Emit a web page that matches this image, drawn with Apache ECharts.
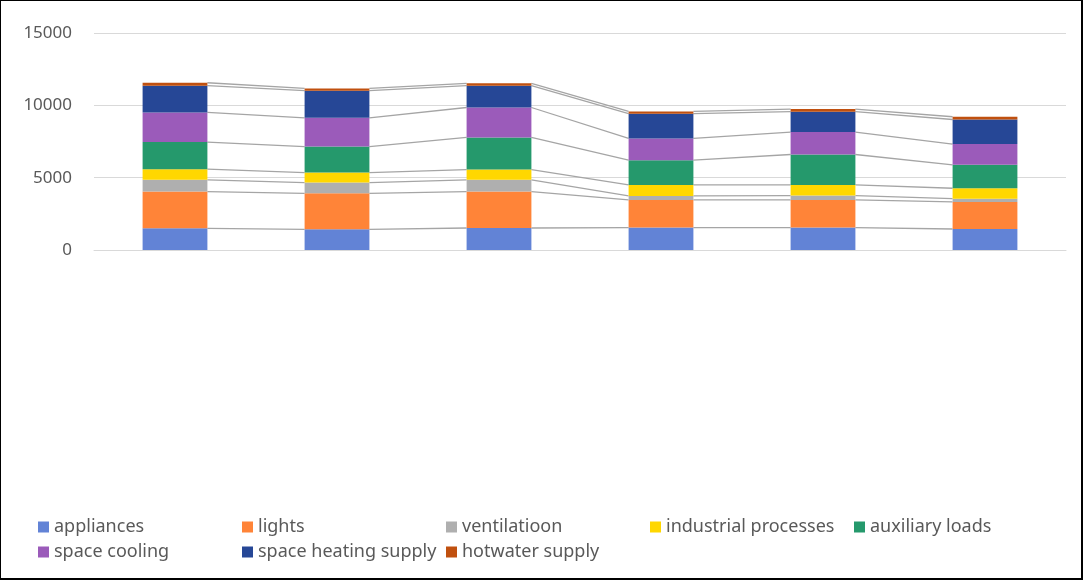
<!DOCTYPE html>
<html>
<head>
<meta charset="utf-8">
<script src="https://cdn.jsdelivr.net/npm/echarts@6/dist/echarts.min.js"></script>
<style>
html,body{margin:0;padding:0;background:#fff;}
#wrap{position:absolute;left:0;top:0;width:1083px;height:580px;box-sizing:border-box;border-left:1px solid #000;border-top:1px solid #000;border-right:2px solid #000;border-bottom:2px solid #000;}
#chart{position:absolute;left:-1px;top:-1px;width:1083px;height:580px;}
</style>
</head>
<body>
<div id="wrap"><div id="chart"></div></div>
<script>
const categories = ['1', '2', '3', '4', '5', '6'];
const seriesNames = ['appliances', 'lights', 'ventilatioon', 'industrial processes', 'auxiliary loads', 'space cooling', 'space heating supply', 'hotwater supply'];
const appliances = [1500, 1430, 1520, 1550, 1550, 1450];
const lights = [2540, 2490, 2520, 1910, 1910, 1870];
const ventilation = [810, 740, 810, 280, 300, 230];
const industrialProcesses = [740, 690, 710, 760, 740, 720];
const auxiliaryLoads = [1870, 1800, 2220, 1710, 2100, 1620];
const spaceCooling = [2050, 1990, 2070, 1500, 1550, 1430];
const spaceHeatingSupply = [1850, 1870, 1510, 1710, 1410, 1700];
const hotwaterSupply = [200, 160, 160, 160, 180, 190];
const yTicks = [0, 5000, 10000, 15000];

const allValues = [appliances, lights, ventilation, industrialProcesses, auxiliaryLoads, spaceCooling, spaceHeatingSupply, hotwaterSupply];
const colors = ['#6283d6', '#ff8438', '#afafaf', '#ffd700', '#25996c', '#9b5bba', '#264796', '#c0500f'];
const barFrac = 0.4;

function cumAt(i) {
  const out = []; let s = 0;
  for (const arr of allValues) { s += arr[i]; out.push(s); }
  return out;
}

const series = seriesNames.map((n, k) => ({
  name: n, type: 'bar', stack: 'total', barWidth: (barFrac * 100) + '%',
  itemStyle: { color: colors[k] }, data: allValues[k], z: 3
}));

series.push({
  type: 'custom', name: 'seriesLines', z: 1, silent: true,
  data: categories.slice(0, categories.length - 1).map((c, i) => [i, 0]),
  encode: { x: 0, y: 1 },
  renderItem: function (params, api) {
    const i = api.value(0);
    const a = cumAt(i), b = cumAt(i + 1);
    const half = api.size([1, 0])[0] * barFrac / 2;
    const children = [];
    for (let k = 0; k < a.length; k++) {
      const p1 = api.coord([i, a[k]]);
      const p2 = api.coord([i + 1, b[k]]);
      children.push({
        type: 'line',
        shape: { x1: p1[0] + half, y1: p1[1], x2: p2[0] - half, y2: p2[1] },
        style: { stroke: '#a5a5a5', lineWidth: 1.3 }
      });
    }
    return { type: 'group', children: children };
  }
});

const legends = seriesNames.map((n, k) => ({
  data: [n],
  left: 33 + (k % 5) * 204,
  top: k < 5 ? 513 : 538,
  itemWidth: 11, itemHeight: 11, icon: 'rect',
  textStyle: { color: '#595959', fontSize: 18, fontFamily: '"Noto Sans", sans-serif' }
}));

const chart = echarts.init(document.getElementById('chart'));
chart.setOption({
  animation: false,
  textStyle: { fontFamily: '"Noto Sans", sans-serif' },
  grid: { left: 94, right: 17, top: 33, bottom: 330 },
  xAxis: {
    type: 'category', data: categories,
    axisLine: { show: true, lineStyle: { color: '#d9d9d9', width: 1 } },
    axisTick: { show: false }, axisLabel: { show: false }
  },
  yAxis: {
    type: 'value', min: yTicks[0], max: yTicks[yTicks.length - 1], interval: yTicks[1] - yTicks[0],
    axisLine: { show: false }, axisTick: { show: false },
    axisLabel: { color: '#595959', fontSize: 17, margin: 22, padding: [2, 0, 0, 0], formatter: function (v) { return String(v); } },
    splitLine: { lineStyle: { color: '#d9d9d9', width: 1 } }
  },
  legend: legends,
  series: series
});
</script>
</body>
</html>
